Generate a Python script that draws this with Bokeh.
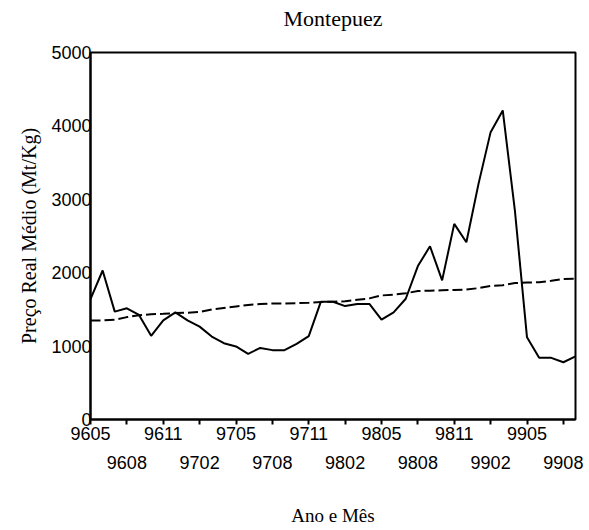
from bokeh.plotting import figure
from bokeh.models import Range1d, FixedTicker, LinearAxis
from bokeh.embed import file_html
from bokeh.resources import INLINE

# Month labels (YYMM), May 1996 - Sep 1999
months = ["9605", "9606", "9607", "9608", "9609", "9610", "9611", "9612",
          "9701", "9702", "9703", "9704", "9705", "9706", "9707", "9708",
          "9709", "9710", "9711", "9712", "9801", "9802", "9803", "9804",
          "9805", "9806", "9807", "9808", "9809", "9810", "9811", "9812",
          "9901", "9902", "9903", "9904", "9905", "9906", "9907", "9908",
          "9909"]

# Real average price (Mt/Kg)
price = [1640, 2030, 1470, 1515, 1425, 1140, 1350, 1460, 1350, 1265,
         1130, 1040, 995, 895, 975, 945, 945, 1030, 1135, 1605,
         1605, 1545, 1575, 1575, 1360, 1460, 1645, 2090, 2360, 1895,
         2665, 2415, 3210, 3915, 4210, 2850, 1120, 840, 840, 780,
         860]

# Trend (dashed)
trend = [1350, 1350, 1360, 1395, 1420, 1435, 1440, 1450, 1455, 1465,
         1500, 1520, 1540, 1560, 1575, 1580, 1580, 1585, 1590, 1600,
         1605, 1610, 1630, 1650, 1690, 1700, 1720, 1750, 1755, 1760,
         1765, 1770, 1790, 1820, 1830, 1860, 1865, 1870, 1890, 1915,
         1920]

y_ticks = [0, 1000, 2000, 3000, 4000, 5000]

title_text = "Montepuez"
x_label_text = "Ano e Mês"
y_label_text = "Preço Real Médio (Mt/Kg)"

x = list(range(len(months)))

p = figure(width=589, height=530, output_backend="svg", toolbar_location=None,
           x_range=Range1d(0, len(months) - 1), y_range=Range1d(0, 5000),
           min_border_left=90, min_border_right=14, min_border_top=52,
           min_border_bottom=111)

p.grid.visible = False
p.outline_line_color = "black"
p.outline_line_width = 2
p.outline_line_alpha = 1
p.background_fill_color = "white"
p.border_fill_color = "white"

p.line(x, price, line_color="black", line_width=2)
p.line(x, trend, line_color="black", line_width=2, line_dash="10 4")

# Default axes (grab before adding extra axes)
xa = p.below[0]
ya = p.left[0]

# Y axis
ya.ticker = FixedTicker(ticks=y_ticks)
ya.major_tick_out = 0
ya.major_tick_in = 0
ya.minor_tick_line_color = None
ya.axis_line_width = 2
ya.axis_line_color = "black"
ya.major_label_standoff = -1
ya.major_label_text_font = "Liberation Sans"
ya.major_label_text_font_size = "18px"
ya.major_label_text_color = "black"
ya.axis_label = y_label_text
ya.axis_label_text_font = "Liberation Serif"
ya.axis_label_text_font_size = "20px"
ya.axis_label_text_font_style = "normal"
ya.axis_label_text_color = "black"
ya.axis_label_standoff = 8

# X axis row 1
tick_pos = x[::3]
xa.ticker = FixedTicker(ticks=tick_pos)
xa.major_label_overrides = {t: (months[t] if (t // 3) % 2 == 0 else "") for t in tick_pos}
xa.major_tick_out = 5
xa.major_tick_in = 0
xa.major_tick_line_width = 2
xa.major_tick_line_color = "black"
xa.minor_tick_line_color = None
xa.axis_line_width = 2
xa.axis_line_color = "black"
xa.major_label_standoff = 2
xa.major_label_text_font = "Liberation Sans"
xa.major_label_text_font_size = "18px"
xa.major_label_text_color = "black"

# X axis row 2
row2 = [t for t in tick_pos if (t // 3) % 2 == 1]
xb = LinearAxis(ticker=FixedTicker(ticks=row2))
xb.major_label_overrides = {t: months[t] for t in row2}
xb.axis_line_color = None
xb.major_tick_line_color = None
xb.major_tick_out = 0
xb.major_tick_in = 0
xb.minor_tick_line_color = None
xb.major_label_standoff = 13
xb.major_label_text_font = "Liberation Sans"
xb.major_label_text_font_size = "18px"
xb.major_label_text_color = "black"
xb.axis_label = x_label_text
xb.axis_label_text_font = "Liberation Serif"
xb.axis_label_text_font_size = "19px"
xb.axis_label_text_font_style = "normal"
xb.axis_label_text_color = "black"
xb.axis_label_standoff = 33
p.add_layout(xb, "below")

# Title drawn as the label of a bare axis above the frame
ta = LinearAxis(ticker=FixedTicker(ticks=[]))
ta.axis_line_color = None
ta.major_tick_line_color = None
ta.minor_tick_line_color = None
ta.major_tick_out = 0
ta.major_tick_in = 0
ta.axis_label = title_text
ta.axis_label_text_font = "Liberation Serif"
ta.axis_label_text_font_size = "22px"
ta.axis_label_text_font_style = "normal"
ta.axis_label_text_color = "black"
ta.axis_label_standoff = 22
p.add_layout(ta, "above")

open("out.html", "w").write(file_html(p, INLINE))
